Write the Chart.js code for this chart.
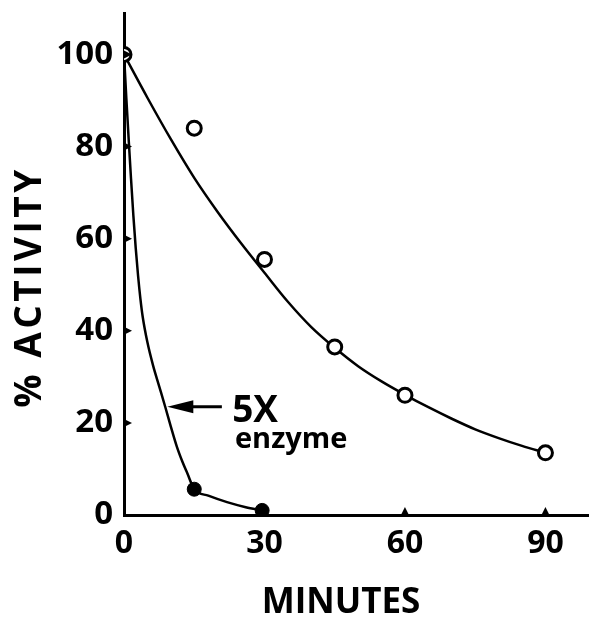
<!DOCTYPE html>
<html>
<head>
<meta charset="utf-8">
<script src="https://cdn.jsdelivr.net/npm/chart.js@4.4.0/dist/chart.umd.min.js"></script>
<style>
  body { margin: 0; background: #fff; }
  canvas { display: block; }
</style>
</head>
<body>
<canvas id="grafico" width="589" height="618"></canvas>
<script>
// pontos medidos (circulos abertos)
const openMin = [0, 15, 30, 45, 60, 90];
const openAct = [100, 84, 55.5, 36.5, 26, 13.5];

// 5X enzyme (circulos cheios)
const fullMin = [0, 15, 29.5];
const fullAct = [100, 5.6, 1];

// curvas tracadas na figura (lidas ponto a ponto)
const curveMin = [0, 5, 10, 15, 20, 25, 30, 35, 40, 45, 50, 55, 60, 65, 70, 75, 80, 85, 90];
const curveAct = [100, 90.6, 81.6, 73.2, 65.8, 59, 52.6, 46.3, 40.8, 36.3, 32.3, 29, 26.1, 23.4, 20.9, 18.6, 16.7, 15, 13.5];

const fastMin = [0, 0.5, 1, 1.5, 2, 2.5, 3, 3.5, 4, 5, 6.2, 7.5, 8.8, 10, 11.3, 12.5, 13.5, 15, 18, 22, 26, 29.5];
const fastAct = [100, 90.5, 81.5, 73, 65, 58, 52, 47, 43, 37.5, 32.5, 28, 23.5, 19.2, 14.8, 11.5, 9.1, 5.6, 4.2, 2.8, 1.7, 1];

// ticks
const xTicks = [0, 30, 60, 90];
const yTicks = [0, 20, 40, 60, 80, 100];

const FONT = "'Open Sans', sans-serif";

function toXY(xs, ys) {
  return xs.map((x, i) => ({ x: x, y: ys[i] }));
}

// desenha marcas triangulares, seta, textos e titulos dos eixos
const extras = {
  id: "extras",
  afterDraw(chart) {
    const ctx = chart.ctx;
    const xs = chart.scales.x;
    const ys = chart.scales.y;
    const x0 = xs.getPixelForValue(0);
    const y0 = ys.getPixelForValue(0);
    ctx.save();
    ctx.fillStyle = "#000";
    ctx.strokeStyle = "#000";

    // marcas do eixo y
    ys.ticks.forEach(t => {
      if (t.value === 0) return;
      const py = ys.getPixelForValue(t.value);
      ctx.beginPath();
      ctx.moveTo(x0, py - 4);
      ctx.lineTo(x0 + 8, py);
      ctx.lineTo(x0, py + 4);
      ctx.closePath();
      ctx.fill();
    });
    // marcas do eixo x
    xs.ticks.forEach(t => {
      if (t.value === 0) return;
      const px = xs.getPixelForValue(t.value);
      ctx.beginPath();
      ctx.moveTo(px - 4, y0);
      ctx.lineTo(px, y0 - 8);
      ctx.lineTo(px + 4, y0);
      ctx.closePath();
      ctx.fill();
    });

    // seta do 5X
    const tipX = xs.getPixelForValue(9.25);
    const tailX = xs.getPixelForValue(20.9);
    const ay = ys.getPixelForValue(23.5);
    ctx.lineWidth = 3;
    ctx.beginPath();
    ctx.moveTo(tipX + 20, ay);
    ctx.lineTo(tailX, ay);
    ctx.stroke();
    ctx.beginPath();
    ctx.moveTo(tipX, ay);
    ctx.lineTo(tipX + 26, ay - 6.5);
    ctx.lineTo(tipX + 26, ay + 6.5);
    ctx.closePath();
    ctx.fill();

    ctx.textAlign = "left";
    ctx.textBaseline = "alphabetic";
    ctx.font = "700 37px " + FONT;
    ctx.fillText("5X", xs.getPixelForValue(23.1), ys.getPixelForValue(20.2));
    ctx.font = "700 29px " + FONT;
    ctx.fillText("enzyme", xs.getPixelForValue(23.7), ys.getPixelForValue(14.5));

    // titulos
    ctx.textAlign = "center";
    ctx.textBaseline = "middle";
    ctx.font = "700 35px " + FONT;
    ctx.fillText("MINUTES", 341, 603);

    ctx.translate(30, 287);
    ctx.rotate(-Math.PI / 2);
    ctx.font = "700 37px " + FONT;
    ctx.letterSpacing = "3.5px";
    ctx.fillText("% ACTIVITY", 0, 0);
    ctx.restore();
  }
};

let grafico = document.getElementById("grafico");
const config = {
  type: "scatter",
  data: {
    datasets: [
      {
        label: "ajuste",
        type: "line",
        data: toXY(curveMin, curveAct),
        borderColor: "#000",
        borderWidth: 2.5,
        pointRadius: 0,
        fill: false,
        cubicInterpolationMode: "monotone",
        order: 3,
      },
      {
        label: "5X ajuste",
        type: "line",
        data: toXY(fastMin, fastAct),
        borderColor: "#000",
        borderWidth: 2.5,
        pointRadius: 0,
        fill: false,
        cubicInterpolationMode: "monotone",
        order: 3,
      },
      {
        label: "5X enzyme",
        data: toXY(fullMin, fullAct),
        backgroundColor: "#000",
        borderColor: "#000",
        borderWidth: 1,
        pointRadius: 7,
        order: 2,
      },
      {
        label: "enzima",
        data: toXY(openMin, openAct),
        backgroundColor: "#fff",
        borderColor: "#000",
        borderWidth: 3,
        pointRadius: 7,
        order: 1,
      },
    ],
  },
  options: {
    responsive: false,
    animation: false,
    devicePixelRatio: 1,
    layout: { autoPadding: false, padding: { top: 13, right: 0, left: 0, bottom: 0 } },
    plugins: {
      legend: { display: false },
      tooltip: { enabled: false },
    },
    scales: {
      x: {
        type: "linear",
        min: 0,
        max: 99.3,
        grid: { display: false },
        border: { color: "#000", width: 3 },
        afterBuildTicks: s => { s.ticks = xTicks.map(v => ({ value: v })); },
        afterFit: s => { s.height = 103; s.paddingLeft = 0; s.paddingRight = 0; },
        ticks: {
          color: "#000",
          padding: 2,
          maxRotation: 0,
          font: { family: FONT, size: 32, weight: "700" },
        },
      },
      y: {
        type: "linear",
        min: 0,
        max: 109,
        grid: { display: false },
        border: { color: "#000", width: 3 },
        afterBuildTicks: s => { s.ticks = yTicks.map(v => ({ value: v })); },
        afterFit: s => { s.width = 124; s.paddingTop = 0; s.paddingBottom = 0; },
        ticks: {
          color: "#000",
          padding: 3,
          font: { family: FONT, size: 33, weight: "700" },
        },
      },
    },
  },
  plugins: [extras],
};

let myGrafico = new Chart(grafico, config);
</script>
</body>
</html>
